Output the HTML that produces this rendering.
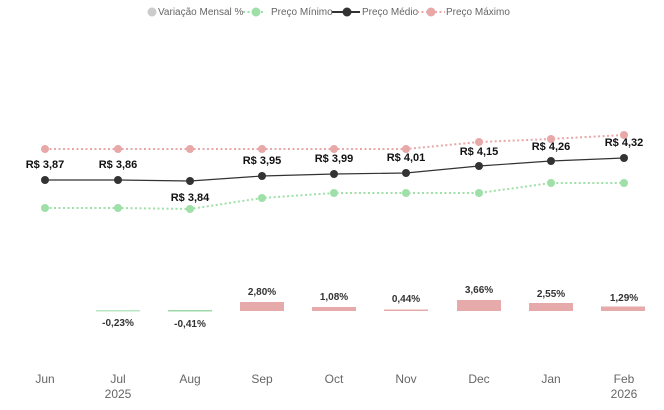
<!DOCTYPE html><html><head><style>body{margin:0;background:#fff}svg{font-family:"Liberation Sans",sans-serif}</style></head><body>
<svg width="664" height="405" xmlns="http://www.w3.org/2000/svg">
<g font-size="10" fill="#666">
<circle cx="152" cy="12" r="4.5" fill="#ccc"/><text x="158" y="15">Variação Mensal %</text>
<line x1="243" y1="12" x2="265" y2="12" stroke="#9fdfa8" stroke-dasharray="2,2.5" stroke-width="2"/><circle cx="256" cy="12" r="4.5" fill="#9fdfa8"/><text x="271" y="15">Preço Mínimo</text>
<line x1="332" y1="12" x2="360" y2="12" stroke="#333" stroke-width="2"/><circle cx="347" cy="12" r="4.5" fill="#333"/><text x="362" y="15">Preço Médio</text>
<line x1="417" y1="12" x2="445" y2="12" stroke="#e8a8a8" stroke-dasharray="2,2.5" stroke-width="2"/><circle cx="431" cy="12" r="4.5" fill="#e8a8a8"/><text x="446" y="15">Preço Máximo</text>
</g>
<polyline fill="none" stroke="#e8a8a8" stroke-width="2" stroke-dasharray="2,2.5" points="45,149 118,149 190,149 262,149 334,149 406,149 479,142 551,139 624,135"/>
<g fill="#e8a8a8"><circle cx="45" cy="149" r="4"/><circle cx="118" cy="149" r="4"/><circle cx="190" cy="149" r="4"/><circle cx="262" cy="149" r="4"/><circle cx="334" cy="149" r="4"/><circle cx="406" cy="149" r="4"/><circle cx="479" cy="142" r="4"/><circle cx="551" cy="139" r="4"/><circle cx="624" cy="135" r="4"/></g>
<polyline fill="none" stroke="#9fdfa8" stroke-width="2" stroke-dasharray="2,2.5" points="45,208 118,208 190,209 262,198 334,193 406,193 479,193 551,183 624,183"/>
<g fill="#9fdfa8"><circle cx="45" cy="208" r="4"/><circle cx="118" cy="208" r="4"/><circle cx="190" cy="209" r="4"/><circle cx="262" cy="198" r="4"/><circle cx="334" cy="193" r="4"/><circle cx="406" cy="193" r="4"/><circle cx="479" cy="193" r="4"/><circle cx="551" cy="183" r="4"/><circle cx="624" cy="183" r="4"/></g>
<polyline fill="none" stroke="#333" stroke-width="1.2" points="45,180 118,180 190,181 262,176 334,174 406,173 479,166 551,161 624,158"/>
<g fill="#333"><circle cx="45" cy="180" r="4"/><circle cx="118" cy="180" r="4"/><circle cx="190" cy="181" r="4"/><circle cx="262" cy="176" r="4"/><circle cx="334" cy="174" r="4"/><circle cx="406" cy="173" r="4"/><circle cx="479" cy="166" r="4"/><circle cx="551" cy="161" r="4"/><circle cx="624" cy="158" r="4"/></g>
<g font-size="11" font-weight="bold" fill="#111" text-anchor="middle">
<text x="45" y="168">R$ 3,87</text><text x="118" y="168">R$ 3,86</text><text x="190" y="201">R$ 3,84</text><text x="262" y="164">R$ 3,95</text><text x="334" y="162">R$ 3,99</text><text x="406" y="161">R$ 4,01</text><text x="479" y="155">R$ 4,15</text><text x="551" y="150">R$ 4,26</text><text x="624" y="146">R$ 4,32</text>
</g>
<g fill="#e6aaaa">
<rect x="240" y="302" width="44" height="9"/><rect x="312" y="307" width="44" height="4"/><rect x="384" y="309.5" width="44" height="1.5"/><rect x="457" y="300" width="44" height="11"/><rect x="529" y="303" width="44" height="8"/><rect x="601" y="306.5" width="44" height="4.5"/>
</g>
<rect x="96" y="310" width="44" height="1.5" fill="#b8e6c0"/><rect x="168" y="310" width="44" height="1.5" fill="#9fd8a8"/>
<g font-size="10" font-weight="bold" fill="#333" text-anchor="middle">
<text x="118" y="326">-0,23%</text><text x="190" y="327">-0,41%</text><text x="262" y="295">2,80%</text><text x="334" y="300">1,08%</text><text x="406" y="302">0,44%</text><text x="479" y="293">3,66%</text><text x="551" y="297">2,55%</text><text x="624" y="301">1,29%</text>
</g>
<g font-size="12" fill="#666" text-anchor="middle">
<text x="45" y="383">Jun</text><text x="118" y="383">Jul</text><text x="118" y="398">2025</text><text x="190" y="383">Aug</text><text x="262" y="383">Sep</text><text x="334" y="383">Oct</text><text x="406" y="383">Nov</text><text x="479" y="383">Dec</text><text x="551" y="383">Jan</text><text x="624" y="383">Feb</text><text x="624" y="398">2026</text>
</g>
</svg></body></html>
